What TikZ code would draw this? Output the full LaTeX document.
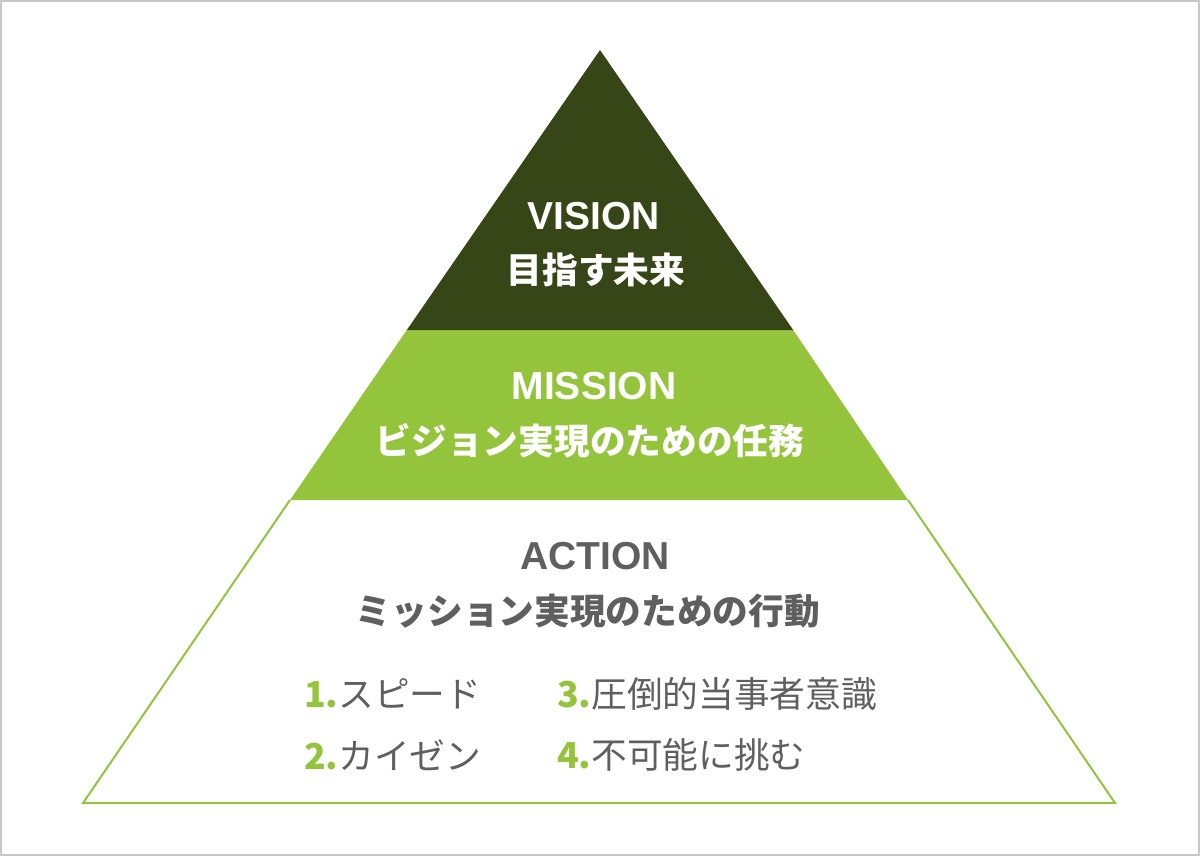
\documentclass[tikz,border=0pt]{standalone}
\usepackage{fontspec}
\newfontfamily\lat{Liberation Sans}
\newfontfamily\jp{Noto Sans CJK JP}
\definecolor{darkgreen}{HTML}{364617}
\definecolor{lightgreen}{HTML}{94C43C}
\definecolor{textgray}{HTML}{5F5F5F}
\definecolor{framegray}{HTML}{C8C8C8}
\tikzset{
  titletext/.style={inner sep=0pt, font=\lat\bfseries\fontsize{39}{44}\selectfont},
  subtext/.style={inner sep=0pt, font=\jp\bfseries\fontsize{35.7}{40}\selectfont},
  itemtext/.style={inner sep=0pt, anchor=west, text=textgray, font=\jp\fontsize{35.7}{40}\selectfont},
}
\begin{document}
\begin{tikzpicture}[x=1pt,y=-1pt]
\useasboundingbox (0,0) rectangle (1200,856);
\draw[framegray, line width=2pt] (1,1) rectangle (1199,855);
% action (outline)
\draw[lightgreen, line width=2pt] (290,500) -- (83,803) -- (1115,803) -- (908,500);
% mission
\fill[lightgreen] (406.8,330) -- (290,500) -- (908,500) -- (793.2,330) -- cycle;
% vision
\fill[darkgreen] (600,50) -- (406.8,330) -- (793.2,330) -- cycle;
% texts
\node[titletext, text=white] (vt) at (594,216) {VISION};
\node[subtext, text=white] (vs) at (596,270) {目指す未来};
\node[titletext, text=white] (mt) at (594,386) {MISSION};
\node[subtext, text=white] (ms) at (590,441) {ビジョン実現のための任務};
\node[titletext, text=textgray] (at) at (595,556) {ACTION};
\node[subtext, text=textgray] (as) at (588,611) {ミッション実現のための行動};
\node[itemtext] (i1) at (304,694) {{\color{lightgreen}\bfseries 1.}スピード};
\node[itemtext] (i2) at (304,755) {{\color{lightgreen}\bfseries 2.}カイゼン};
\node[itemtext] (i3) at (557,694) {{\color{lightgreen}\bfseries 3.}圧倒的当事者意識};
\node[itemtext] (i4) at (557,755) {{\color{lightgreen}\bfseries 4.}不可能に挑む};
\end{tikzpicture}
\end{document}
